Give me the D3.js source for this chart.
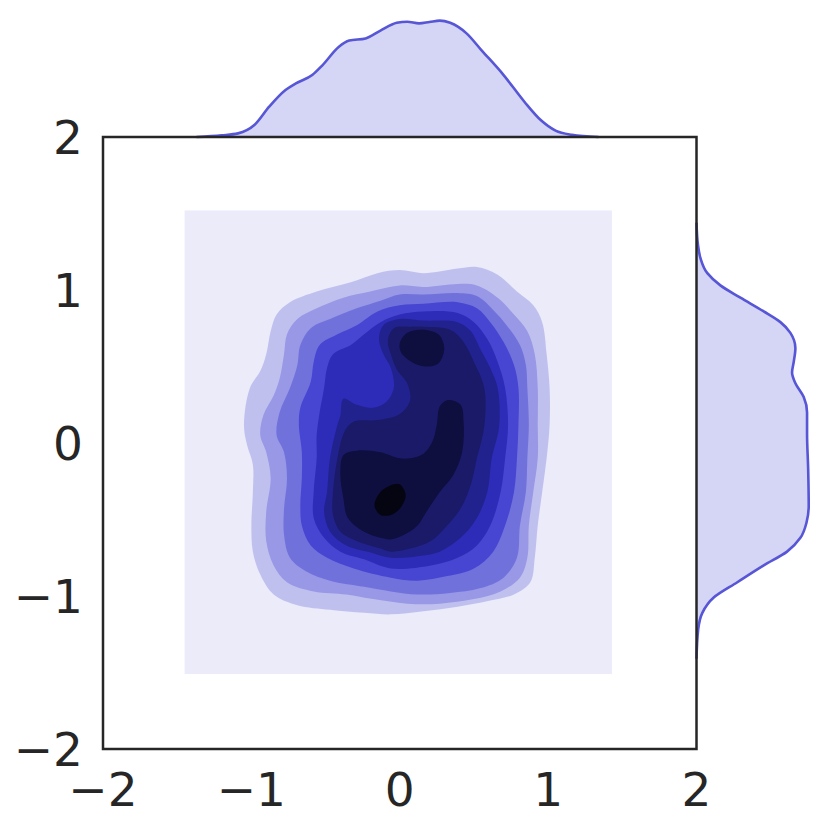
<!DOCTYPE html>
<html>
<head>
<meta charset="utf-8">
<script src="https://cdn.jsdelivr.net/npm/d3@7"></script>
<style>
  html, body { margin: 0; padding: 0; background: #fff; }
  .tick-label { font-family: "DejaVu Sans", sans-serif; font-size: 47px; fill: #262626; }
</style>
</head>
<body>
<div id="chart"></div>
<script>
// ---- data ----

// axis ticks
var ticks = [-2, -1, 0, 1, 2];
var tickLabels = ["\u22122", "\u22121", "0", "1", "2"];

// extent of the kde grid (lowest filled level)
var gridX = [-1.45, 1.43];
var gridY = [-1.51, 1.52];

// contour outlines, [x, y] in data units, outermost first
var band1 = [[-1.05,0.12],[-1.01,0.36],[-0.94,0.47],[-0.90,0.58],[-0.87,0.73],[-0.83,0.84],[-0.74,0.92],[-0.56,0.99],[-0.33,1.05],[-0.15,1.11],[0.00,1.13],[0.16,1.11],[0.39,1.14],[0.52,1.15],[0.66,1.10],[0.79,0.99],[0.90,0.90],[0.96,0.79],[0.99,0.58],[1.01,0.36],[1.01,0.12],[0.99,-0.10],[0.96,-0.32],[0.93,-0.54],[0.91,-0.75],[0.88,-0.91],[0.77,-0.99],[0.61,-1.03],[0.39,-1.07],[0.16,-1.10],[-0.06,-1.12],[-0.24,-1.11],[-0.47,-1.09],[-0.69,-1.06],[-0.85,-0.99],[-0.94,-0.86],[-0.99,-0.71],[-1.00,-0.54],[-0.99,-0.32],[-0.99,-0.14],[-1.03,-0.01]];
var band2 = [[-0.94,0.05],[-0.92,0.18],[-0.85,0.31],[-0.81,0.42],[-0.78,0.58],[-0.76,0.71],[-0.69,0.81],[-0.56,0.88],[-0.38,0.95],[-0.20,0.99],[0.00,1.03],[0.16,1.02],[0.39,1.04],[0.52,1.03],[0.66,0.95],[0.77,0.84],[0.86,0.73],[0.91,0.58],[0.93,0.36],[0.93,0.12],[0.93,-0.10],[0.90,-0.32],[0.87,-0.54],[0.86,-0.75],[0.81,-0.88],[0.68,-0.97],[0.50,-1.02],[0.27,-1.05],[0.05,-1.05],[-0.18,-1.02],[-0.36,-0.99],[-0.58,-0.97],[-0.76,-0.91],[-0.85,-0.80],[-0.90,-0.64],[-0.90,-0.45],[-0.87,-0.23],[-0.90,-0.06]];
var band3 = [[-0.83,0.05],[-0.81,0.20],[-0.74,0.36],[-0.69,0.51],[-0.67,0.64],[-0.60,0.75],[-0.47,0.81],[-0.29,0.88],[-0.13,0.93],[0.00,0.97],[0.16,0.97],[0.39,0.98],[0.52,0.96],[0.63,0.87],[0.72,0.77],[0.81,0.64],[0.85,0.51],[0.86,0.36],[0.87,0.12],[0.86,-0.10],[0.85,-0.32],[0.81,-0.54],[0.79,-0.75],[0.70,-0.88],[0.54,-0.95],[0.34,-0.98],[0.12,-0.99],[-0.06,-0.97],[-0.24,-0.94],[-0.47,-0.90],[-0.63,-0.84],[-0.74,-0.75],[-0.78,-0.60],[-0.78,-0.43],[-0.76,-0.23],[-0.78,-0.06]];
var band4 = [[-0.68,0.12],[-0.67,0.23],[-0.60,0.40],[-0.58,0.53],[-0.54,0.64],[-0.42,0.71],[-0.29,0.77],[-0.15,0.86],[0.00,0.90],[0.16,0.91],[0.39,0.92],[0.52,0.88],[0.61,0.79],[0.70,0.66],[0.77,0.51],[0.80,0.36],[0.80,0.12],[0.79,-0.10],[0.77,-0.32],[0.71,-0.54],[0.63,-0.71],[0.50,-0.82],[0.32,-0.87],[0.12,-0.90],[-0.06,-0.88],[-0.31,-0.82],[-0.49,-0.75],[-0.60,-0.67],[-0.66,-0.54],[-0.67,-0.41],[-0.66,-0.23],[-0.66,-0.06]];
var band5 = [[-0.56,0.05],[-0.54,0.20],[-0.51,0.36],[-0.49,0.49],[-0.45,0.58],[-0.33,0.64],[-0.24,0.71],[-0.13,0.79],[0.00,0.84],[0.16,0.86],[0.39,0.85],[0.50,0.79],[0.59,0.68],[0.66,0.53],[0.71,0.36],[0.73,0.12],[0.71,-0.10],[0.68,-0.32],[0.61,-0.54],[0.52,-0.67],[0.39,-0.75],[0.21,-0.80],[-0.06,-0.82],[-0.24,-0.76],[-0.40,-0.71],[-0.51,-0.62],[-0.58,-0.49],[-0.58,-0.32],[-0.56,-0.10]];
var band6 = [[-0.38,0.29],[-0.29,0.25],[-0.18,0.23],[-0.09,0.27],[-0.04,0.36],[-0.06,0.49],[-0.11,0.58],[-0.14,0.68],[-0.11,0.77],[0.00,0.81],[0.16,0.80],[0.39,0.79],[0.48,0.73],[0.54,0.62],[0.61,0.49],[0.66,0.36],[0.67,0.11],[0.62,-0.10],[0.59,-0.32],[0.52,-0.49],[0.41,-0.62],[0.27,-0.71],[0.12,-0.74],[-0.06,-0.75],[-0.18,-0.72],[-0.36,-0.67],[-0.47,-0.58],[-0.51,-0.45],[-0.49,-0.32],[-0.47,-0.10],[-0.42,0.12],[-0.40,0.18]];
var band7 = [[-0.08,0.67],[-0.04,0.75],[0.07,0.76],[0.16,0.76],[0.34,0.74],[0.43,0.66],[0.50,0.53],[0.57,0.36],[0.57,0.11],[0.52,-0.10],[0.48,-0.27],[0.41,-0.43],[0.30,-0.56],[0.21,-0.64],[0.07,-0.69],[-0.06,-0.71],[-0.13,-0.69],[-0.29,-0.64],[-0.40,-0.58],[-0.45,-0.47],[-0.45,-0.32],[-0.42,-0.10],[-0.37,0.08],[-0.31,0.14],[-0.15,0.15],[0.00,0.19],[0.07,0.28],[0.05,0.39],[-0.02,0.48],[-0.06,0.58]];
var band8a = [[0.00,0.65],[0.05,0.72],[0.15,0.74],[0.26,0.71],[0.30,0.62],[0.26,0.52],[0.17,0.50],[0.08,0.53],[0.01,0.59]];
var band8b = [[-0.40,-0.21],[-0.38,-0.08],[-0.29,-0.05],[-0.13,-0.06],[0.00,-0.10],[0.07,-0.10],[0.16,-0.07],[0.22,0.01],[0.25,0.12],[0.27,0.24],[0.32,0.28],[0.41,0.25],[0.43,0.14],[0.42,-0.06],[0.36,-0.21],[0.27,-0.32],[0.18,-0.45],[0.12,-0.54],[0.03,-0.60],[-0.06,-0.63],[-0.13,-0.62],[-0.24,-0.58],[-0.35,-0.49],[-0.38,-0.36]];
var band9 = [[-0.17,-0.41],[-0.13,-0.32],[-0.04,-0.27],[0.00,-0.27],[0.04,-0.34],[0.00,-0.43],[-0.06,-0.47],[-0.13,-0.47]];

// marginal kde along x (top)
var topX = [-1.37,-1.20,-1.09,-0.98,-0.88,-0.77,-0.70,-0.59,-0.52,-0.41,-0.34,-0.23,-0.13,-0.02,0.05,0.13,0.20,0.27,0.34,0.45,0.55,0.70,0.84,0.95,1.05,1.16,1.34];
var topD = [0.000,0.006,0.013,0.043,0.109,0.169,0.193,0.223,0.259,0.325,0.347,0.355,0.383,0.411,0.415,0.409,0.414,0.419,0.411,0.373,0.313,0.223,0.127,0.061,0.023,0.008,0.000];

// marginal kde along y (right)
var rightY = [1.44,1.30,1.21,1.11,1.03,0.95,0.86,0.79,0.72,0.62,0.53,0.46,0.39,0.30,0.20,0.06,-0.17,-0.41,-0.52,-0.62,-0.71,-0.80,-0.91,-1.01,-1.11,-1.22,-1.41];
var rightD = [0.000,0.005,0.014,0.039,0.086,0.158,0.242,0.302,0.338,0.356,0.350,0.344,0.356,0.386,0.398,0.398,0.402,0.404,0.396,0.374,0.326,0.242,0.147,0.062,0.021,0.006,0.000];

// fill colours from the lightest level to the darkest
var levelColors = ["#ebebfa", "#c0c0ef", "#9898e6", "#7171dc", "#4646d2",
                   "#2c2cb8", "#22228e", "#1a1a69", "#0e0e3f", "#050512"];
var margColor = "#5656d6";

// ---- drawing ----

var width = 830, height = 830;

var svg = d3.select("#chart").append("svg")
    .attr("width", width)
    .attr("height", height);

// main axes, frame 103..696.5 x 137..749
var x = d3.scaleLinear().domain([-2, 2]).range([103, 696.5]);
var y = d3.scaleLinear().domain([-2, 2]).range([749, 137]);

// lowest level covers the whole kde grid
svg.append("rect")
    .attr("x", x(gridX[0]))
    .attr("y", y(gridY[1]))
    .attr("width", x(gridX[1]) - x(gridX[0]))
    .attr("height", y(gridY[0]) - y(gridY[1]))
    .attr("fill", levelColors[0]);

var outline = d3.line()
    .x(function(d) { return x(d[0]); })
    .y(function(d) { return y(d[1]); })
    .curve(d3.curveCatmullRomClosed.alpha(0.5));

var bands = [[band1], [band2], [band3], [band4], [band5],
             [band6], [band7], [band8a, band8b], [band9]];

bands.forEach(function(rings, i) {
  svg.append("g").selectAll("path")
      .data(rings)
    .enter()
    .append("path")
      .attr("d", outline)
      .attr("fill", levelColors[i + 1]);
});

// top marginal
var yTop = d3.scaleLinear().domain([0, 0.45]).range([137, 12]);
var topPts = topX.map(function(v, i) { return [v, topD[i]]; });

svg.append("path")
    .datum(topPts)
    .attr("d", d3.area()
      .x(function(d) { return x(d[0]); })
      .y0(yTop(0))
      .y1(function(d) { return yTop(d[1]); })
      .curve(d3.curveMonotoneX))
    .attr("fill", margColor)
    .attr("fill-opacity", 0.25);

svg.append("path")
    .datum(topPts)
    .attr("d", d3.line()
      .x(function(d) { return x(d[0]); })
      .y(function(d) { return yTop(d[1]); })
      .curve(d3.curveMonotoneX))
    .attr("fill", "none")
    .attr("stroke", margColor)
    .attr("stroke-width", 2.6)
    .attr("stroke-linejoin", "round");

// right marginal
var xRight = d3.scaleLinear().domain([0, 0.45]).range([696.5, 821.5]);
var rightPts = rightY.map(function(v, i) { return [rightD[i], v]; });

svg.append("path")
    .datum(rightPts)
    .attr("d", d3.area()
      .y(function(d) { return y(d[1]); })
      .x0(xRight(0))
      .x1(function(d) { return xRight(d[0]); })
      .curve(d3.curveMonotoneY))
    .attr("fill", margColor)
    .attr("fill-opacity", 0.25);

svg.append("path")
    .datum(rightPts)
    .attr("d", d3.line()
      .x(function(d) { return xRight(d[0]); })
      .y(function(d) { return y(d[1]); })
      .curve(d3.curveMonotoneY))
    .attr("fill", "none")
    .attr("stroke", margColor)
    .attr("stroke-width", 2.6)
    .attr("stroke-linejoin", "round");

// frame
svg.append("rect")
    .attr("x", x(-2))
    .attr("y", y(2))
    .attr("width", x(2) - x(-2))
    .attr("height", y(-2) - y(2))
    .attr("fill", "none")
    .attr("stroke", "#262626")
    .attr("stroke-width", 2.5);

// tick labels (no tick marks in this style)
svg.append("g").selectAll("text")
    .data(ticks)
  .enter()
  .append("text")
    .attr("class", "tick-label")
    .attr("x", function(d) { return x(d); })
    .attr("y", y(-2) + 57)
    .attr("text-anchor", "middle")
    .text(function(d, i) { return tickLabels[i]; });

svg.append("g").selectAll("text")
    .data(ticks)
  .enter()
  .append("text")
    .attr("class", "tick-label")
    .attr("x", x(-2) - 20)
    .attr("y", function(d) { return y(d) + 17; })
    .attr("text-anchor", "end")
    .text(function(d, i) { return tickLabels[i]; });
</script>
</body>
</html>
